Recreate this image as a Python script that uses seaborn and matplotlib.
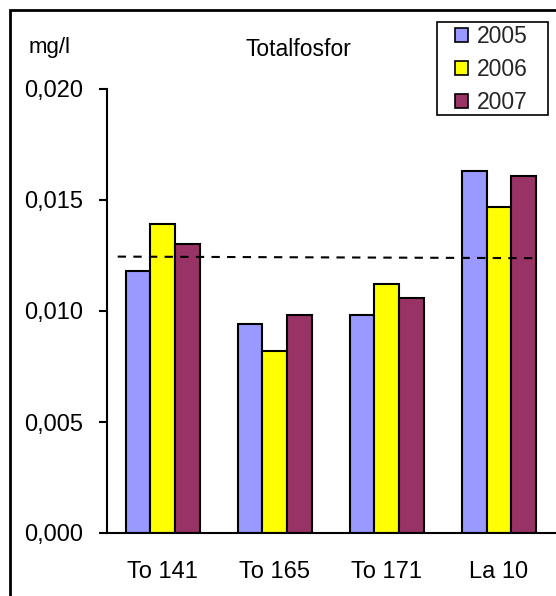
import matplotlib
matplotlib.use("Agg")
import matplotlib.pyplot as plt
import seaborn as sns
import pandas as pd
from matplotlib.patches import Rectangle, Patch
from matplotlib.ticker import FuncFormatter, MultipleLocator

sns.set_theme(style="white")
plt.rcParams['font.family'] = ['Liberation Sans', 'DejaVu Sans']

stations = ["To 141", "To 165", "To 171", "La 10"]
years = ["2005", "2006", "2007"]
v2005 = [0.0118, 0.0094, 0.0098, 0.0163]
v2006 = [0.0139, 0.0082, 0.0112, 0.0147]
v2007 = [0.0130, 0.0098, 0.0106, 0.0161]
ref_x = [-0.4, 3.31]
ref_y = [0.01245, 0.01238]
colors = ["#9999FF", "#FFFF00", "#993366"]

rows = []
for yr, vals in zip(years, [v2005, v2006, v2007]):
    for s, v in zip(stations, vals):
        rows.append({"station": s, "year": yr, "value": v})
df = pd.DataFrame(rows)

fig = plt.figure(figsize=(5.56, 5.96), dpi=100)
ax = fig.add_axes([106.5 / 556, 63 / 596, (555 - 106.5) / 556, (533 - 89) / 596])

sns.barplot(data=df, x="station", y="value", hue="year", order=stations,
            hue_order=years, palette=colors, width=0.66, gap=0,
            edgecolor="black", linewidth=1.5, saturation=1, ax=ax, legend=False)

ax.plot(ref_x, ref_y, color="black", linestyle=(0, (4, 3.5)), linewidth=1.5)

ax.set_xlim(-0.5, 3.5)
ax.set_ylim(0, 0.020)
ax.yaxis.set_major_locator(MultipleLocator(0.005))
ax.yaxis.set_major_formatter(FuncFormatter(lambda v, p: f"{v:.3f}".replace('.', ',')))
ax.set_xlabel("")
ax.set_ylabel("")
for sp in ["top", "right"]:
    ax.spines[sp].set_visible(False)
for sp in ["left", "bottom"]:
    ax.spines[sp].set_color("black")
    ax.spines[sp].set_linewidth(1.5)
ax.tick_params(axis="y", which="major", direction="out", length=6, width=1.5,
               color="black", labelsize=17, labelcolor="black", pad=11, left=True)
ax.tick_params(axis="x", length=0, labelsize=17, labelcolor="black", pad=20)

fig.text(50 / 556, 1 - 48 / 596, "mg/l", fontsize=16, ha="center", va="center", color="black")
fig.text(298 / 556, 1 - 50 / 596, "Totalfosfor", fontsize=16.5, ha="center", va="center", color="black")

handles = [Patch(facecolor=c, edgecolor="black", linewidth=1.2, label=y) for c, y in zip(colors, years)]
leg = fig.legend(handles=handles, loc="upper left", bbox_to_anchor=(455 / 556, 1 - 25 / 596),
                 frameon=False, fontsize=16.5, handlelength=0.57, handleheight=0.57,
                 handletextpad=0.4, labelspacing=0.43, borderpad=0, borderaxespad=0)

fig.patches.append(Rectangle((437 / 556, 1 - 115 / 596), 111 / 556, 93 / 596, transform=fig.transFigure,
                             fill=False, edgecolor="black", linewidth=1.2))

fig.patches.append(Rectangle((10 / 556, -0.1), 1.2, 1 - 10 / 596 + 0.1, transform=fig.transFigure,
                             fill=False, edgecolor="black", linewidth=2, clip_on=False))

fig.savefig("out.png", dpi=100)
